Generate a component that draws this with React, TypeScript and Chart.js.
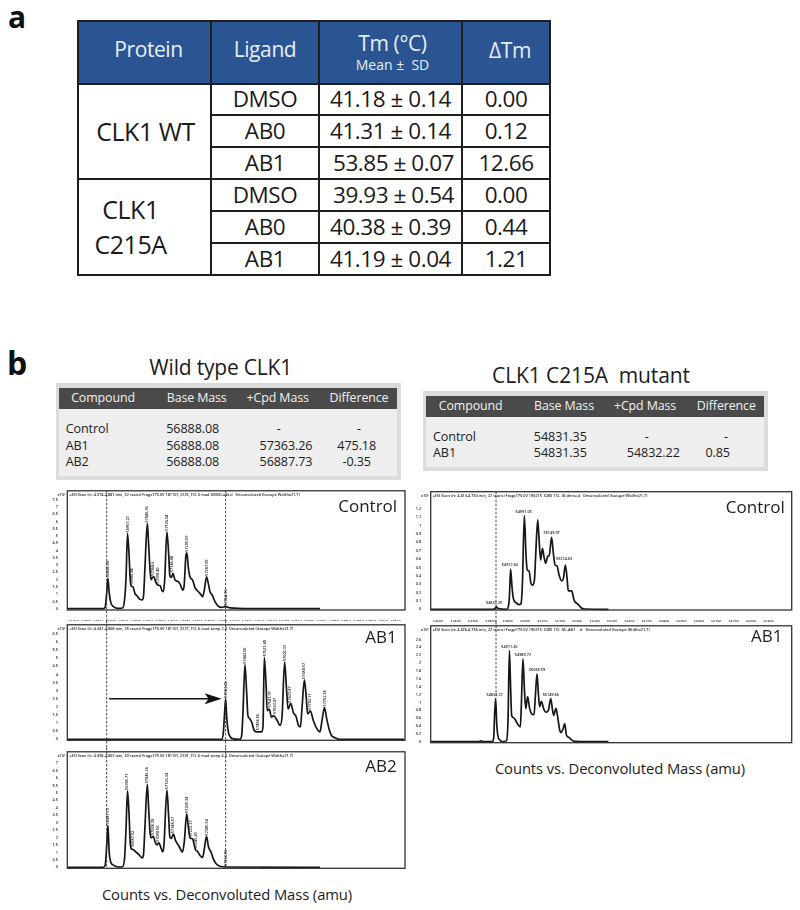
import React, { useEffect, useRef } from "react";
import { Chart, registerables } from "chart.js";

Chart.register(...registerables);

const FONT = "'Open Sans', 'Noto Sans', sans-serif";

/* ---------- table a ---------- */
const ligands = ["DMSO", "AB0", "AB1", "DMSO", "AB0", "AB1"];
const tmValues = ["41.18 ± 0.14", "41.31 ± 0.14", "53.85 ± 0.07", "39.93 ± 0.54", "40.38 ± 0.39", "41.19 ± 0.04"];
const deltaTm = ["0.00", "0.12", "12.66", "0.00", "0.44", "1.21"];

/* ---------- tables b ---------- */
const massHeaders = ["Compound", "Base Mass", "+Cpd Mass", "Difference"];
const wtRows = [
  ["Control", "56888.08", "-", "-"],
  ["AB1", "56888.08", "57363.26", "475.18"],
  ["AB2", "56888.08", "56887.73", "-0.35"],
];
const mutantRows = [
  ["Control", "54831.35", "-", "-"],
  ["AB1", "54831.35", "54832.22", "0.85"],
];

/* ---------- axes ---------- */
const wtMassTicks = [56750, 56800, 56850, 56900, 56950, 57000, 57050, 57100, 57150, 57200, 57250, 57300, 57350, 57400, 57450, 57500, 57550, 57600, 57650, 57700, 57750, 57800, 57850, 57900, 57950, 58000, 58050];
const mutantMassTicks = [54500, 54600, 54700, 54800, 54900, 55000, 55100, 55200, 55300, 55400, 55500, 55600, 55700, 55800, 55900, 56000, 56100, 56200, 56300, 56400];

const wtControlTicks = [0, 0.5, 1, 1.5, 2, 2.5, 3, 3.5, 4, 4.5, 5, 5.5, 6, 6.5, 7, 7.5];
const wtAb1Ticks = [0, 0.5, 1, 1.5, 2, 2.5, 3, 3.5, 4, 4.5, 5, 5.5, 6, 6.5];
const wtAb2Ticks = [0, 0.5, 1, 1.5, 2, 2.5, 3, 3.5, 4, 4.5, 5, 5.5, 6, 6.5, 7];
const mutControlTicks = [0, 0.1, 0.2, 0.3, 0.4, 0.5, 0.6, 0.7, 0.8, 0.9, 1, 1.1, 1.2];
const mutAb1Ticks = [0, 0.2, 0.4, 0.6, 0.8, 1, 1.2, 1.4, 1.6, 1.8, 2, 2.2, 2.4, 2.6];

/* ---------- spectra ---------- */
const wtControlMass = [56724, 56869, 56877, 56883, 56888, 56893, 56900, 56910, 56930, 56947, 56955, 56961, 56967, 56973, 56978, 56982, 56989, 56997, 57006, 57017, 57027, 57032, 57037, 57047, 57052, 57058, 57062, 57068, 57074, 57080, 57089, 57099, 57106, 57111, 57117, 57126, 57133, 57138, 57144, 57150, 57159, 57172, 57181, 57189, 57195, 57203, 57207, 57212, 57219, 57230, 57239, 57253, 57262, 57270, 57277, 57286, 57293, 57300, 57309, 57320, 57333, 57347, 57363, 57381, 57461, 57744];
const wtControlCounts = [0, 0, 0.12, 1.1, 2.09, 1.1, 0.4, 0.15, 0.02, 0.05, 0.6, 2.1, 5.18, 3.8, 2.0, 1.56, 1.5, 1.05, 0.87, 0.64, 0.6, 0.94, 2.66, 5.87, 4.5, 2.66, 2.0, 2.15, 2.2, 1.86, 1.63, 1.58, 1.24, 1.17, 1.97, 5.3, 3.8, 2.25, 2.15, 2.43, 1.97, 1.86, 1.63, 1.28, 1.5, 3.7, 3.85, 2.9, 2.2, 1.97, 1.47, 1.17, 1.0, 0.83, 1.28, 2.2, 1.74, 1.17, 0.94, 0.48, 0.18, 0.09, 0.14, 0.05, 0, 0];
const wtControlPeakMass = [56888, 56967, 56986, 57047, 57068, 57090, 57126, 57146, 57205, 57287, 57364];
const wtControlPeakCounts = [2.09, 5.18, 1.6, 5.87, 2.2, 1.65, 5.3, 2.45, 3.85, 2.2, 0.14];
const wtControlPeakLabels = ["56888.08", "56967.23", "56986.84", "57046.36", "57068.6", "57090.40", "57126.04", "57146.48", "57205.59", "57287.09", "57364.96"];

const wtAb1Mass = [56724, 57347, 57354, 57359, 57363, 57368, 57374, 57382, 57394, 57421, 57428, 57433, 57441, 57448, 57453, 57461, 57469, 57478, 57488, 57509, 57514, 57519, 57526, 57531, 57539, 57548, 57556, 57569, 57583, 57591, 57601, 57609, 57615, 57626, 57636, 57647, 57657, 57665, 57671, 57681, 57688, 57694, 57705, 57717, 57731, 57744, 57751, 57762, 57771, 57782, 57791, 57805, 57822, 58084];
const wtAb1Counts = [0, 0, 0.46, 1.66, 2.5, 1.26, 0.46, 0.14, 0.03, 0, 0.26, 1.66, 4.6, 2.86, 1.46, 1.26, 1.02, 0.56, 0.46, 0.46, 0.86, 5.06, 3.46, 1.76, 1.86, 1.36, 1.46, 1.22, 0.86, 1.46, 4.76, 3.06, 1.86, 2.22, 1.66, 1.42, 0.86, 0.76, 1.86, 3.66, 2.66, 1.56, 1.76, 1.16, 0.66, 0.46, 1.06, 1.96, 1.26, 0.56, 0.22, 0.1, 0, 0];
const wtAb1PeakMass = [57363, 57442, 57494, 57521, 57542, 57563, 57602, 57624, 57681, 57702, 57762];
const wtAb1PeakCounts = [2.5, 4.6, 0.5, 5.06, 1.9, 1.5, 4.76, 2.2, 3.66, 1.76, 1.96];
const wtAb1PeakLabels = ["57363.26", "57442.06", "57494.56", "57521.40", "57541.97", "57563.07", "57602.33", "57623.87", "57680.57", "57702.11", "57762.34"];

const wtAb2Mass = [56724, 56869, 56877, 56883, 56888, 56893, 56900, 56910, 56930, 56947, 56955, 56961, 56967, 56973, 56978, 56982, 56989, 57001, 57013, 57027, 57032, 57037, 57047, 57052, 57058, 57062, 57071, 57079, 57085, 57094, 57101, 57109, 57114, 57126, 57133, 57138, 57144, 57152, 57161, 57175, 57189, 57196, 57206, 57212, 57219, 57230, 57241, 57250, 57259, 57270, 57277, 57286, 57294, 57304, 57313, 57324, 57340, 57363, 57744];
const wtAb2Counts = [0, 0, 0.15, 1.47, 2.82, 1.03, 0.33, 0.15, 0.02, 0.04, 0.59, 2.56, 5.14, 3.65, 1.68, 1.25, 1.2, 1.03, 0.85, 0.63, 0.92, 2.56, 5.58, 4.09, 2.34, 1.99, 2.08, 1.68, 1.51, 1.64, 1.36, 1.03, 1.47, 5.19, 3.44, 2.01, 1.95, 2.23, 1.79, 1.42, 1.03, 1.68, 3.59, 2.78, 2.01, 1.9, 1.2, 1.07, 0.81, 0.66, 1.25, 2.08, 1.36, 1.03, 0.59, 0.26, 0.07, 0.02, 0];
const wtAb2PeakMass = [56888, 56966, 56988, 57047, 57068, 57091, 57126, 57149, 57205, 57223, 57245, 57286, 57364];
const wtAb2PeakCounts = [2.82, 5.14, 1.3, 5.58, 2.1, 1.65, 5.19, 2.23, 3.59, 2.0, 1.2, 2.08, 0.02];
const wtAb2PeakLabels = ["56887.73", "56965.77", "56987.52", "57046.26", "57068.38", "57090.56", "57126.34", "57148.57", "57205.34", "57223.37", "57245.43", "57285.54", "57363.96"];

const mutControlMass = [54456, 54817, 54826, 54834, 54845, 54893, 54903, 54909, 54916, 54924, 54932, 54947, 54964, 54976, 54984, 54995, 55005, 55012, 55022, 55033, 55041, 55053, 55060, 55072, 55080, 55089, 55099, 55108, 55118, 55129, 55139, 55152, 55162, 55172, 55183, 55195, 55210, 55220, 55231, 55241, 55248, 55268, 55281, 55306, 55325, 55344, 55479];
const mutControlCounts = [0, 0, 0.01, 0.03, 0.01, 0, 0.03, 0.15, 0.48, 0.27, 0.13, 0.08, 0.056, 0.07, 0.31, 1.12, 0.63, 0.47, 0.46, 0.31, 0.29, 0.35, 0.63, 1.07, 0.83, 0.59, 0.73, 0.63, 0.55, 0.63, 0.65, 0.86, 0.67, 0.53, 0.52, 0.41, 0.34, 0.37, 0.53, 0.37, 0.22, 0.22, 0.11, 0.056, 0.012, 0.004, 0];
const mutControlPeakMass = [54821, 54912, 54991, 55152, 55224];
const mutControlPeakCounts = [0.03, 0.48, 1.12, 0.86, 0.56];
const mutControlPeakLabels = ["54831.25", "54912.60", "54991.05", "55149.97", "55224.63"];

const mutAb1Mass = [54456, 54730, 54746, 54757, 54811, 54819, 54824, 54830, 54836, 54842, 54855, 54874, 54893, 54901, 54909, 54916, 54922, 54934, 54945, 54961, 54972, 54978, 54987, 54995, 55003, 55014, 55024, 55037, 55051, 55058, 55068, 55076, 55083, 55093, 55106, 55120, 55133, 55147, 55156, 55164, 55177, 55187, 55197, 55206, 55218, 55228, 55237, 55252, 55268, 55287, 55479];
const mutAb1Counts = [0, 0, 0.02, 0, 0, 0.125, 0.71, 1.1, 0.46, 0.17, 0.04, 0, 0.03, 0.54, 2.32, 1.38, 0.67, 0.61, 0.54, 0.42, 0.38, 0.96, 2.11, 1.38, 0.84, 1.15, 0.88, 0.71, 0.69, 1.13, 1.73, 1.21, 0.89, 1.03, 0.84, 0.75, 0.79, 1.1, 0.84, 0.67, 0.85, 0.63, 0.33, 0.23, 0.33, 0.46, 0.17, 0.11, 0.04, 0.01, 0];
const mutAb1PeakMass = [54824, 54909, 54987, 55068, 55147];
const mutAb1PeakCounts = [1.1, 2.32, 2.11, 1.73, 1.1];
const mutAb1PeakLabels = ["54832.22", "54911.30", "54989.72", "55069.59", "55149.86"];

const headers = [
  "+ESI Scan (rt: 4.374-4.881 min, 32 scans) Frag=175.0V 181101_2225_TCL 6 mod DMSO-a#t.d   Deconvoluted (Isotope Width=21.7)",
  "+ESI Scan (rt: 4.341-4.808 min, 35 scans) Frag=175.0V 181101_2227_TCL 6 mod samp 2.d  Deconvoluted (Isotope Width=21.7)",
  "+ESI Scan (rt: 4.358-4.802 min, 33 scans) Frag=175.0V 181101_2231_TCL 6 mod samp 4.d  Deconvoluted (Isotope Width=21.7)",
  "+ESI Scan (rt: 4.413-4.763 min, 22 scans) Frag=175.0V 190215_3285_TCL 36 dmso.d   Deconvoluted (Isotope Width=21.7)",
  "+ESI Scan (rt: 4.476-4.756 min, 22 scans) Frag=175.0V 190215_3285_TCL 36 -AB1    .d   Deconvoluted (Isotope Width=21.7)",
];

const spectrumPlugin = {
  id: "spectrum",
  afterDatasetsDraw(chart: any, _a: any, o: any) {
    const { ctx, chartArea: ca, scales } = chart;
    const X = scales.x;
    const Y = scales.y;
    ctx.save();
    // frame
    ctx.strokeStyle = "#333";
    ctx.lineWidth = 1.3;
    ctx.strokeRect(ca.left, ca.top, ca.right - ca.left, ca.bottom - ca.top);
    // dashed reference lines
    ctx.strokeStyle = "#333";
    ctx.lineWidth = 0.9;
    ctx.setLineDash([2.5, 1.5]);
    (o.guides || []).forEach((g: number) => {
      const px = X.getPixelForValue(g);
      const y0 = o.guideFromCanvasTop ? 0 : ca.top;
      const y1 = o.guideToCount != null ? Y.getPixelForValue(o.guideToCount) : o.guideToCanvasBottom ? chart.height : ca.bottom;
      ctx.beginPath();
      ctx.moveTo(px, y0);
      ctx.lineTo(px, y1);
      ctx.stroke();
    });
    ctx.setLineDash([]);
    // scan header
    ctx.fillStyle = "#1a1a1a";
    ctx.font = `600 3.8px ${FONT}`;
    ctx.textAlign = "left";
    ctx.textBaseline = "middle";
    ctx.fillText(o.header, ca.left + 2, ca.top + 4);
    ctx.textAlign = "right";
    ctx.fillText("x10⁶", ca.left - 2, ca.top + 4);
    // peak labels
    ctx.font = `600 3.8px ${FONT}`;
    (o.peakMass || []).forEach((m: number, i: number) => {
      const px = X.getPixelForValue(m);
      const py = Y.getPixelForValue(o.peakCounts[i]);
      if (o.rotated) {
        ctx.save();
        ctx.translate(px, py - 1);
        ctx.rotate(-Math.PI / 2);
        ctx.textAlign = "left";
        ctx.fillText(o.peakLabels[i], 0, 0);
        ctx.restore();
      } else {
        ctx.textAlign = "center";
        ctx.fillText(o.peakLabels[i], px, py - 4);
      }
    });
    // shift arrow
    if (o.arrow) {
      const x0 = X.getPixelForValue(o.arrow[0]);
      const x1 = X.getPixelForValue(o.arrow[1]);
      const y = Y.getPixelForValue(o.arrow[2]);
      ctx.strokeStyle = "#111";
      ctx.fillStyle = "#111";
      ctx.lineWidth = 1.4;
      ctx.beginPath();
      ctx.moveTo(x0, y);
      ctx.lineTo(x1 - 10, y);
      ctx.stroke();
      ctx.beginPath();
      ctx.moveTo(x1, y);
      ctx.lineTo(x1 - 17, y - 5.5);
      ctx.lineTo(x1 - 13, y);
      ctx.lineTo(x1 - 17, y + 5.5);
      ctx.closePath();
      ctx.fill();
    }
    ctx.restore();
  },
};

function Spectrum(p: any) {
  const ref = useRef<HTMLCanvasElement>(null);
  useEffect(() => {
    const chart = new Chart(ref.current as any, {
      type: "line",
      data: {
        datasets: [
          {
            data: p.mass.map((x: number, i: number) => ({ x, y: p.counts[i] })),
            borderColor: "#161616",
            borderWidth: 1.7,
            pointRadius: 0,
            cubicInterpolationMode: "monotone",
            clip: false,
          },
        ],
      },
      plugins: [spectrumPlugin as any],
      options: {
        animation: false,
        responsive: false,
        layout: { padding: { top: p.padTop, right: p.padRight, left: 0, bottom: 0 } },
        plugins: {
          legend: { display: false },
          tooltip: { enabled: false },
          spectrum: {
            header: p.header,
            guides: p.guides,
            guideFromCanvasTop: p.guideFromCanvasTop,
            guideToCanvasBottom: p.guideToCanvasBottom,
            guideToCount: p.guideToCount,
            peakMass: p.peakMass,
            peakCounts: p.peakCounts,
            peakLabels: p.peakLabels,
            rotated: p.rotated,
            arrow: p.arrow,
          },
        } as any,
        scales: {
          x: {
            type: "linear",
            min: p.xMin,
            max: p.xMax,
            grid: { display: false },
            border: { display: false },
            afterBuildTicks: (s: any) => {
              s.ticks = p.xTicks.map((value: number) => ({ value }));
            },
            afterFit: (s: any) => {
              s.height = p.xAxisHeight;
            },
            ticks: {
              font: { size: 3.5, family: FONT, weight: "600" },
              color: "#222",
              padding: 1.5,
              maxRotation: 0,
              minRotation: 0,
              autoSkip: false,
              callback: (v: any) => String(v),
            },
          },
          y: {
            type: "linear",
            min: p.yMin,
            max: p.yMax,
            grid: { display: false },
            border: { display: false },
            afterBuildTicks: (s: any) => {
              s.ticks = p.yTicks.map((value: number) => ({ value }));
            },
            afterFit: (s: any) => {
              s.width = p.yAxisWidth;
            },
            ticks: {
              font: { size: 3.8, family: FONT, weight: "600" },
              color: "#222",
              padding: 1.5,
              autoSkip: false,
              callback: (v: any) => String(v),
            },
          },
        },
      } as any,
    });
    return () => chart.destroy();
  }, []);
  return (
    <canvas
      ref={ref}
      width={p.w}
      height={p.h}
      style={{ position: "absolute", left: p.x, top: p.y, width: p.w, height: p.h, display: "block", filter: "blur(0.3px)" }}
    />
  );
}

function Label(p: { x: number; y: number; size: number; children: any; weight?: number; color?: string; spacing?: number; left?: boolean }) {
  return (
    <div
      style={{
        position: "absolute",
        left: p.x,
        top: p.y,
        transform: p.left ? "translateY(-50%)" : "translate(-50%,-50%)",
        fontFamily: FONT,
        fontSize: p.size,
        fontWeight: p.weight || 400,
        color: p.color || "#1c1c1c",
        letterSpacing: p.spacing || 0,
        whiteSpace: "pre",
        lineHeight: 1,
      }}
    >
      {p.children}
    </div>
  );
}

const cellBorder = "2px solid #1e1e1e";
const bodyCell: any = { border: cellBorder, padding: 0, textAlign: "center", fontSize: 22.5, letterSpacing: -0.45, color: "#1a1a1a", lineHeight: 1 };
const headCell: any = { border: cellBorder, padding: 0, textAlign: "center", background: "#2a5592", color: "#e8eef8", fontSize: 21, letterSpacing: -0.4, fontWeight: 400, lineHeight: 1 };

function ThermalTable() {
  const heights = [31.5, 32, 31.5, 32.5, 32, 32];
  return (
    <table style={{ position: "absolute", left: 77, top: 20, width: 472, height: 254, borderCollapse: "collapse", tableLayout: "fixed", fontFamily: FONT }}>
      <colgroup>
        <col style={{ width: 133 }} />
        <col style={{ width: 108 }} />
        <col style={{ width: 143 }} />
        <col style={{ width: 88 }} />
      </colgroup>
      <thead>
        <tr style={{ height: 62.5 }}>
          <th style={{ ...headCell, paddingBottom: 6, paddingLeft: 8 }}>Protein</th>
          <th style={{ ...headCell, paddingBottom: 6 }}>Ligand</th>
          <th style={{ ...headCell, paddingLeft: 4 }}>
            <div style={{ fontSize: 21, marginBottom: 4 }}>Tm (°C)</div>
            <div style={{ fontSize: 14, letterSpacing: 0, whiteSpace: "pre" }}>{"Mean ±  SD"}</div>
          </th>
          <th style={{ ...headCell, paddingBottom: 4, paddingLeft: 8 }}>ΔTm</th>
        </tr>
      </thead>
      <tbody>
        {ligands.map((l, i) => (
          <tr key={i} style={{ height: heights[i] }}>
            {i === 0 && (
              <td rowSpan={3} style={{ ...bodyCell, fontSize: 25, paddingLeft: 2 }}>
                CLK1 WT
              </td>
            )}
            {i === 3 && (
              <td rowSpan={3} style={{ ...bodyCell, fontSize: 25, paddingRight: 28, lineHeight: "35px" }}>
                CLK1
                <br />
                C215A
              </td>
            )}
            <td style={bodyCell}>{l}</td>
            <td style={{ ...bodyCell, paddingLeft: i === 2 || i === 3 ? 6 : 0 }}>{tmValues[i]}</td>
            <td style={bodyCell}>{deltaTm[i]}</td>
          </tr>
        ))}
      </tbody>
    </table>
  );
}

function MassTable(p: any) {
  const rowStep = 16.4;
  return (
    <div>
      <div style={{ position: "absolute", left: p.x, top: p.y, width: p.w, height: p.h, background: "#dcdcdc" }} />
      <div style={{ position: "absolute", left: p.x + 3.5, top: p.y + 5, width: p.w - 7, height: p.h - 9, background: "#eeeeee" }} />
      <div style={{ position: "absolute", left: p.x + 3.5, top: p.y + 5, width: p.w - 7, height: 21.5, background: "#4a4a4a" }} />
      {massHeaders.map((h, i) => (
        <Label key={h} x={p.headX[i]} y={p.y + 15.5} size={12.4} color="#f2f2f2" spacing={-0.1}>
          {h}
        </Label>
      ))}
      {p.rows.map((row: string[], r: number) =>
        row.map((c, i) => (
          <Label key={r + "-" + i} left={i === 0} x={i === 0 ? p.leftX : c === "-" ? p.dashX[i] : p.cellX[i]} y={p.firstRowY + r * rowStep} size={12.6} spacing={-0.1}>
            {c}
          </Label>
        ))
      )}
    </div>
  );
}

export default function App() {
  const wtX = { xMin: 56724, xMax: 58087, xTicks: wtMassTicks, x: 50, w: 360, padRight: 5, yAxisWidth: 17.3, rotated: true };
  const mutX = { xMin: 54456, xMax: 56534, xTicks: mutantMassTicks, x: 415, w: 385, padRight: 8.3, yAxisWidth: 15.7, rotated: false };
  return (
    <div style={{ position: "absolute", left: 0, top: 0, width: 800, height: 910, background: "#fff", overflow: "hidden" }}>
      <Label x={17} y={17} size={30} weight={700} color="#111">a</Label>
      <ThermalTable />

      <Label x={17} y={363} size={32} weight={700} color="#111">b</Label>
      <Label x={220.7} y={367} size={21} spacing={-0.2}>Wild type CLK1</Label>
      <Label x={591} y={375} size={21} spacing={-0.1}>{"CLK1 C215A  mutant"}</Label>

      <MassTable x={55.7} y={382.5} w={345} h={97} rows={wtRows} leftX={65.7} headX={[103, 196.7, 277.7, 359]} cellX={[0, 192.7, 286, 356.7]} dashX={[0, 192.7, 278.7, 359]} firstRowY={429.3} />
      <MassTable x={422.7} y={390.5} w={345} h={80.5} rows={mutantRows} leftX={433} headX={[470.7, 564, 645, 726.3]} cellX={[0, 560.3, 653.3, 717.7]} dashX={[0, 560.3, 646.7, 726]} firstRowY={436.7} />

      <Spectrum {...wtX} y={487} h={134} padTop={3.7} xAxisHeight={11} yMin={-0.09} yMax={8.12} yTicks={wtControlTicks} mass={wtControlMass} counts={wtControlCounts} peakMass={wtControlPeakMass} peakCounts={wtControlPeakCounts} peakLabels={wtControlPeakLabels} header={headers[0]} guides={[56883, 57363]} guideToCanvasBottom />
      <Spectrum {...wtX} y={621} h={127} padTop={0.7} xAxisHeight={7.7} yMin={-0.06} yMax={7.06} yTicks={wtAb1Ticks} mass={wtAb1Mass} counts={wtAb1Counts} peakMass={wtAb1PeakMass} peakCounts={wtAb1PeakCounts} peakLabels={wtAb1PeakLabels} header={headers[1]} guides={[56883, 57363]} guideFromCanvasTop guideToCanvasBottom arrow={[56893, 57347, 2.5]} />
      <Spectrum {...wtX} y={748} h={130} padTop={1} xAxisHeight={9.7} yMin={-0.066} yMax={7.77} yTicks={wtAb2Ticks} mass={wtAb2Mass} counts={wtAb2Counts} peakMass={wtAb2PeakMass} peakCounts={wtAb2PeakCounts} peakLabels={wtAb2PeakLabels} header={headers[2]} guides={[56883, 57363]} guideFromCanvasTop />

      <Spectrum {...mutX} y={487} h={135} padTop={4.7} xAxisHeight={12} yMin={-0.008} yMax={1.406} yTicks={mutControlTicks} mass={mutControlMass} counts={mutControlCounts} peakMass={mutControlPeakMass} peakCounts={mutControlPeakCounts} peakLabels={mutControlPeakLabels} header={headers[3]} guides={[54832]} guideToCanvasBottom />
      <Spectrum {...mutX} y={622} h={130} padTop={2} xAxisHeight={9.3} yMin={-0.025} yMax={2.95} yTicks={mutAb1Ticks} mass={mutAb1Mass} counts={mutAb1Counts} peakMass={mutAb1PeakMass} peakCounts={mutAb1PeakCounts} peakLabels={mutAb1PeakLabels} header={headers[4]} guides={[54832]} guideFromCanvasTop guideToCount={1.1} />

      <Label x={367.7} y={505} size={17}>Control</Label>
      <Label x={381} y={636} size={17}>AB1</Label>
      <Label x={381} y={765} size={17}>AB2</Label>
      <Label x={755.3} y={506} size={17}>Control</Label>
      <Label x={766.7} y={635} size={17}>AB1</Label>
      <Label x={227} y={894} size={14.8} spacing={-0.1}>Counts vs. Deconvoluted Mass (amu)</Label>
      <Label x={620} y={767.5} size={14.8} spacing={-0.1}>Counts vs. Deconvoluted Mass (amu)</Label>
    </div>
  );
}
